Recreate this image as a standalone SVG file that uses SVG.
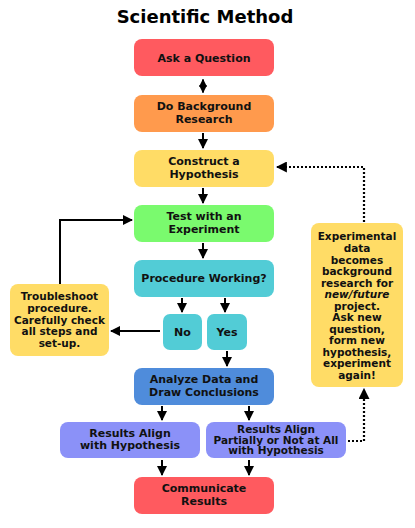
<svg xmlns="http://www.w3.org/2000/svg" width="415" height="528" viewBox="0 0 415 528">
<defs>
<style>
text{font-family:"DejaVu Sans","Verdana",sans-serif;font-weight:bold;fill:#111;text-anchor:middle}
.t{font-size:11px}
.s{font-size:10.5px}
.title{font-size:18px;fill:#000}
.c{stroke:#000;stroke-width:2;fill:none}
.d{stroke:#000;stroke-width:2.2;fill:none;stroke-dasharray:2 2}
.red{fill:#FF5A5F}.org{fill:#FF9A4D}.yel{fill:#FFDC66}.grn{fill:#7AFA6E}.cyn{fill:#52CCD6}.blu{fill:#4F8CDB}.pur{fill:#8B91F8}
</style>
<marker id="ah" viewBox="0 0 10 10" refX="9" refY="5" markerWidth="5" markerHeight="5" orient="auto-start-reverse"><path d="M0,0 L10,5 L0,10 z" fill="#000"/></marker>
<marker id="ahs" viewBox="0 0 10 10" refX="9" refY="5" markerWidth="4" markerHeight="4" orient="auto-start-reverse"><path d="M0,0 L10,5 L0,10 z" fill="#000"/></marker>
</defs>
<rect width="415" height="528" fill="#fff"/>
<text class="title" x="205" y="23">Scientific Method</text>

<g id="connectors">
<path class="c" d="M203,79.5 V92.5" marker-start="url(#ahs)" marker-end="url(#ahs)"/>
<path class="c" d="M203,133 V148" marker-end="url(#ah)"/>
<path class="c" d="M203,188 V203" marker-end="url(#ah)"/>
<path class="c" d="M203,243 V258" marker-end="url(#ah)"/>
<path class="c" d="M182,298 V312" marker-end="url(#ah)"/>
<path class="c" d="M225,298 V312" marker-end="url(#ah)"/>
<path class="c" d="M227,351 V366" marker-end="url(#ah)"/>
<path class="c" d="M160,331 H111" marker-end="url(#ah)"/>
<path class="c" d="M60,284 V220 H132" marker-end="url(#ah)"/>
<path class="c" d="M162,406 V420" marker-end="url(#ah)"/>
<path class="c" d="M249,406 V420" marker-end="url(#ah)"/>
<path class="c" d="M162,460 V475" marker-end="url(#ah)"/>
<path class="c" d="M249,460 V475" marker-end="url(#ah)"/>
<path class="d" d="M364,222 V167 H277" marker-end="url(#ah)"/>
<path class="d" d="M348,441 H364 V389" marker-end="url(#ah)"/>
</g>

<g id="ask"><rect class="red" x="134" y="39" width="140" height="37" rx="8"/><text class="t" x="204" y="62">Ask a Question</text></g>
<g id="research"><rect class="org" x="134" y="95" width="140" height="37" rx="8"/><text class="t" x="204" y="110">Do Background</text><text class="t" x="204" y="123">Research</text></g>
<g id="hypothesis"><rect class="yel" x="134" y="150" width="140" height="37" rx="8"/><text class="t" x="204" y="165">Construct a</text><text class="t" x="204" y="178">Hypothesis</text></g>
<g id="test"><rect class="grn" x="134" y="205" width="140" height="37" rx="8"/><text class="t" x="204" y="220">Test with an</text><text class="t" x="204" y="233">Experiment</text></g>
<g id="procedure"><rect class="cyn" x="134" y="260" width="140" height="37" rx="8"/><text class="t" x="204" y="282">Procedure Working?</text></g>
<g id="no"><rect class="cyn" x="163" y="314" width="39" height="36" rx="7"/><text class="t" x="182.5" y="336">No</text></g>
<g id="yes"><rect class="cyn" x="207" y="314" width="40" height="36" rx="7"/><text class="t" x="227" y="336">Yes</text></g>
<g id="troubleshoot"><rect class="yel" x="10" y="284" width="99" height="72" rx="8"/>
<text class="s" x="59.5" y="300">Troubleshoot</text><text class="s" x="59.5" y="312">procedure.</text><text class="s" x="59.5" y="324">Carefully check</text><text class="s" x="59.5" y="335">all steps and</text><text class="s" x="59.5" y="347">set-up.</text></g>
<g id="analyze"><rect class="blu" x="134" y="368" width="140" height="37" rx="8"/><text class="t" x="204" y="383">Analyze Data and</text><text class="t" x="204" y="396">Draw Conclusions</text></g>
<g id="align"><rect class="pur" x="60" y="422" width="140" height="36" rx="8"/><text class="t" x="130" y="437">Results Align</text><text class="t" x="130" y="449">with Hypothesis</text></g>
<g id="partial"><rect class="pur" x="206" y="422" width="140" height="36" rx="8"/><text class="s" x="276" y="433">Results Align</text><text class="s" x="276" y="443.5">Partially or Not at All</text><text class="s" x="276" y="454">with Hypothesis</text></g>
<g id="communicate"><rect class="red" x="134" y="477" width="140" height="37" rx="8"/><text class="t" x="204" y="492">Communicate</text><text class="t" x="204" y="505">Results</text></g>
<g id="future"><rect class="yel" x="311" y="223" width="92" height="164" rx="8"/>
<text class="s" x="357" y="240">Experimental</text>
<text class="s" x="357" y="252">data</text>
<text class="s" x="357" y="264">becomes</text>
<text class="s" x="357" y="275">background</text>
<text class="s" x="357" y="287">research for</text>
<text class="s" x="357" y="298" font-style="italic">new/future</text>
<text class="s" x="357" y="310">project.</text>
<text class="s" x="357" y="321">Ask new</text>
<text class="s" x="357" y="333">question,</text>
<text class="s" x="357" y="344">form new</text>
<text class="s" x="357" y="356">hypothesis,</text>
<text class="s" x="357" y="367">experiment</text>
<text class="s" x="357" y="379">again!</text></g>
</svg>
